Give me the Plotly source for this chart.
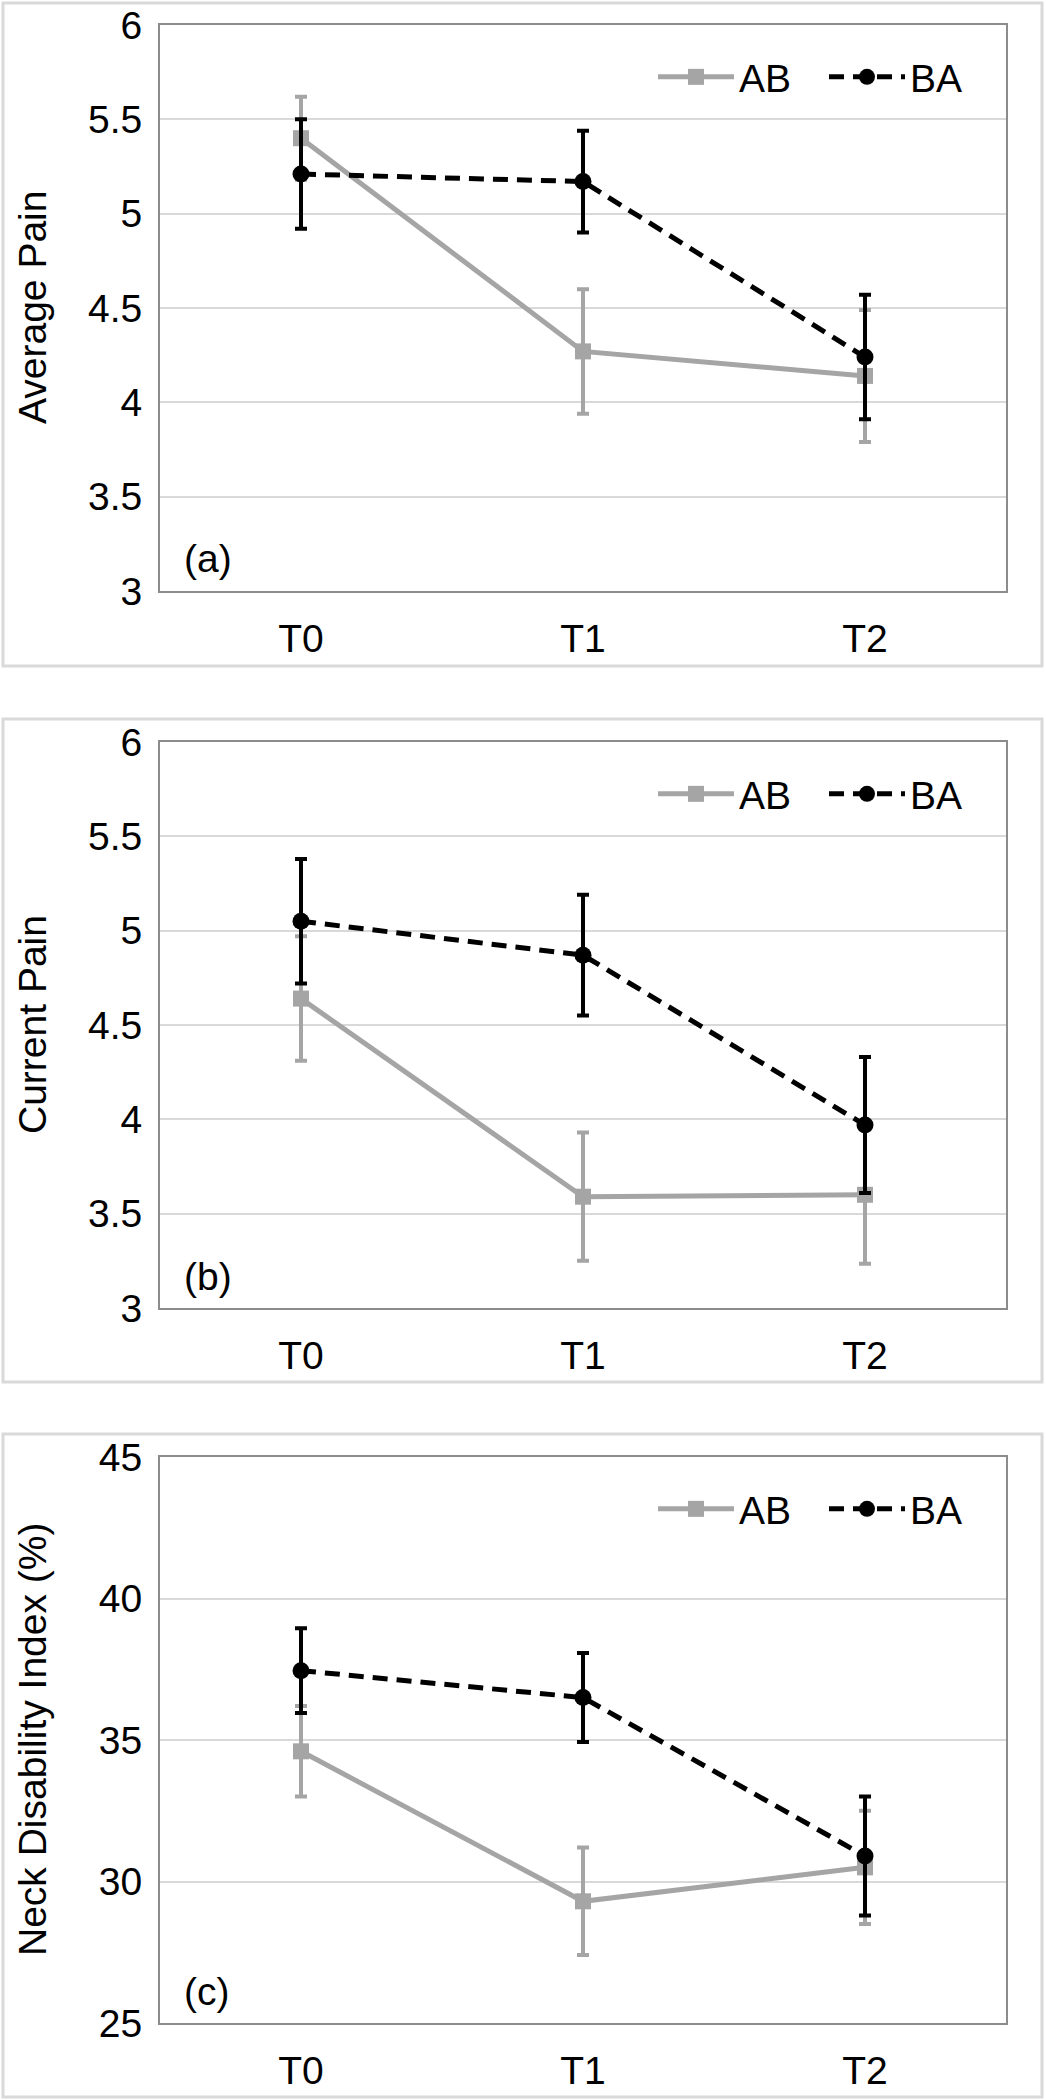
import plotly.graph_objects as go

# ---------------- data ----------------
times = ["T0", "T1", "T2"]
groups = ["AB", "BA"]

avg_ab = [5.40, 4.27, 4.14]
avg_ab_err = [0.22, 0.33, 0.35]
avg_ba = [5.21, 5.17, 4.24]
avg_ba_err = [0.29, 0.27, 0.33]

cur_ab = [4.64, 3.59, 3.60]
cur_ab_err = [0.33, 0.34, 0.365]
cur_ba = [5.05, 4.87, 3.97]
cur_ba_err = [0.33, 0.32, 0.36]

ndi_ab = [34.6, 29.3, 30.5]
ndi_ab_err = [1.6, 1.9, 2.0]
ndi_ba = [37.45, 36.5, 30.9]
ndi_ba_err = [1.5, 1.57, 2.1]

y_titles = ["Average Pain", "Current Pain", "Neck Disability Index (%)"]
panel_labels = ["(a)", "(b)", "(c)"]
y_ranges = [[3, 6], [3, 6], [25, 45]]
y_dticks = [0.5, 0.5, 5]

# ---------------- layout geometry (pixels) ----------------
W, H = 1046, 2100
FONT = "Arial, 'Liberation Sans', sans-serif"
FS = 39
GRAY = "#A5A5A5"

plot_left, plot_right = 160, 1006
plot_tops = [25, 742, 1457]
plot_h = 566
box_tops = [3, 719, 1434]
box_h = 663

def py(p):
    return 1 - p / H

fig = go.Figure()

panels = [
    (avg_ab, avg_ab_err, avg_ba, avg_ba_err),
    (cur_ab, cur_ab_err, cur_ba, cur_ba_err),
    (ndi_ab, ndi_ab_err, ndi_ba, ndi_ba_err),
]

layout_updates = {}
shapes = []
annotations = []

for i, (ab, abe, ba, bae) in enumerate(panels):
    n = "" if i == 0 else str(i + 1)
    xa, ya = "x" + n, "y" + n
    leg = "legend" + n
    fig.add_trace(go.Scatter(
        x=times, y=ab, name=groups[0], xaxis=xa, yaxis=ya, legend=leg,
        mode="lines+markers",
        line=dict(color=GRAY, width=5),
        marker=dict(symbol="square", size=16, color=GRAY),
        error_y=dict(type="data", array=abe, color=GRAY, thickness=4, width=6),
    ))
    fig.add_trace(go.Scatter(
        x=times, y=ba, name=groups[1], xaxis=xa, yaxis=ya, legend=leg,
        mode="lines+markers",
        line=dict(color="black", width=5, dash="15px,9px"),
        marker=dict(symbol="circle", size=17, color="black"),
        error_y=dict(type="data", array=bae, color="black", thickness=4, width=6),
    ))

    top = plot_tops[i]
    bot = top + plot_h
    layout_updates["xaxis" + n] = dict(
        domain=[plot_left / W, plot_right / W], anchor=ya,
        type="category", range=[-0.5, 2.5],
        showgrid=False, zeroline=False,
        showline=True, mirror=True, linecolor="#8C8C8C", linewidth=2,
        ticks="", ticklabelstandoff=12,
        tickfont=dict(family=FONT, size=FS, color="black"),
    )
    layout_updates["yaxis" + n] = dict(
        domain=[py(bot), py(top)], anchor=xa,
        range=y_ranges[i], dtick=y_dticks[i], tick0=y_ranges[i][0],
        showgrid=True, gridcolor="#D9D9D9", gridwidth=2, zeroline=False,
        showline=True, mirror=True, linecolor="#8C8C8C", linewidth=2,
        ticks="", ticklabelstandoff=8,
        tickfont=dict(family=FONT, size=FS, color="black"),
    )
    layout_updates[leg] = dict(
        orientation="h", x=653 / W, xanchor="left",
        y=py(top + 52), yanchor="middle",
        font=dict(family=FONT, size=FS, color="black"),
        bgcolor="rgba(0,0,0,0)", itemwidth=76, entrywidth=80,
        traceorder="normal",
    )
    shapes.append(dict(
        type="rect", xref="paper", yref="paper", layer="below",
        x0=3 / W, x1=1042 / W, y0=py(box_tops[i] + box_h), y1=py(box_tops[i]),
        line=dict(color="#D9D9D9", width=3), fillcolor="rgba(0,0,0,0)",
    ))
    annotations.append(dict(
        text=y_titles[i], xref="paper", yref="paper",
        x=32 / W, y=py(top + plot_h / 2), xanchor="center", yanchor="middle",
        textangle=-90, showarrow=False,
        font=dict(family=FONT, size=39, color="black"),
    ))
    annotations.append(dict(
        text=panel_labels[i], xref=xa + " domain", yref=ya + " domain",
        x=22 / (plot_right - plot_left), y=32 / plot_h,
        xanchor="left", yanchor="middle", showarrow=False,
        font=dict(family=FONT, size=FS, color="black"),
    ))

fig.update_layout(
    width=W, height=H,
    margin=dict(l=0, r=0, t=0, b=0, autoexpand=False),
    paper_bgcolor="white", plot_bgcolor="white",
    shapes=shapes, annotations=annotations,
    **layout_updates,
)

fig.write_html(
    "out.html",
    config={"displayModeBar": False},
    post_script="document.body.style.margin='0';",
)
